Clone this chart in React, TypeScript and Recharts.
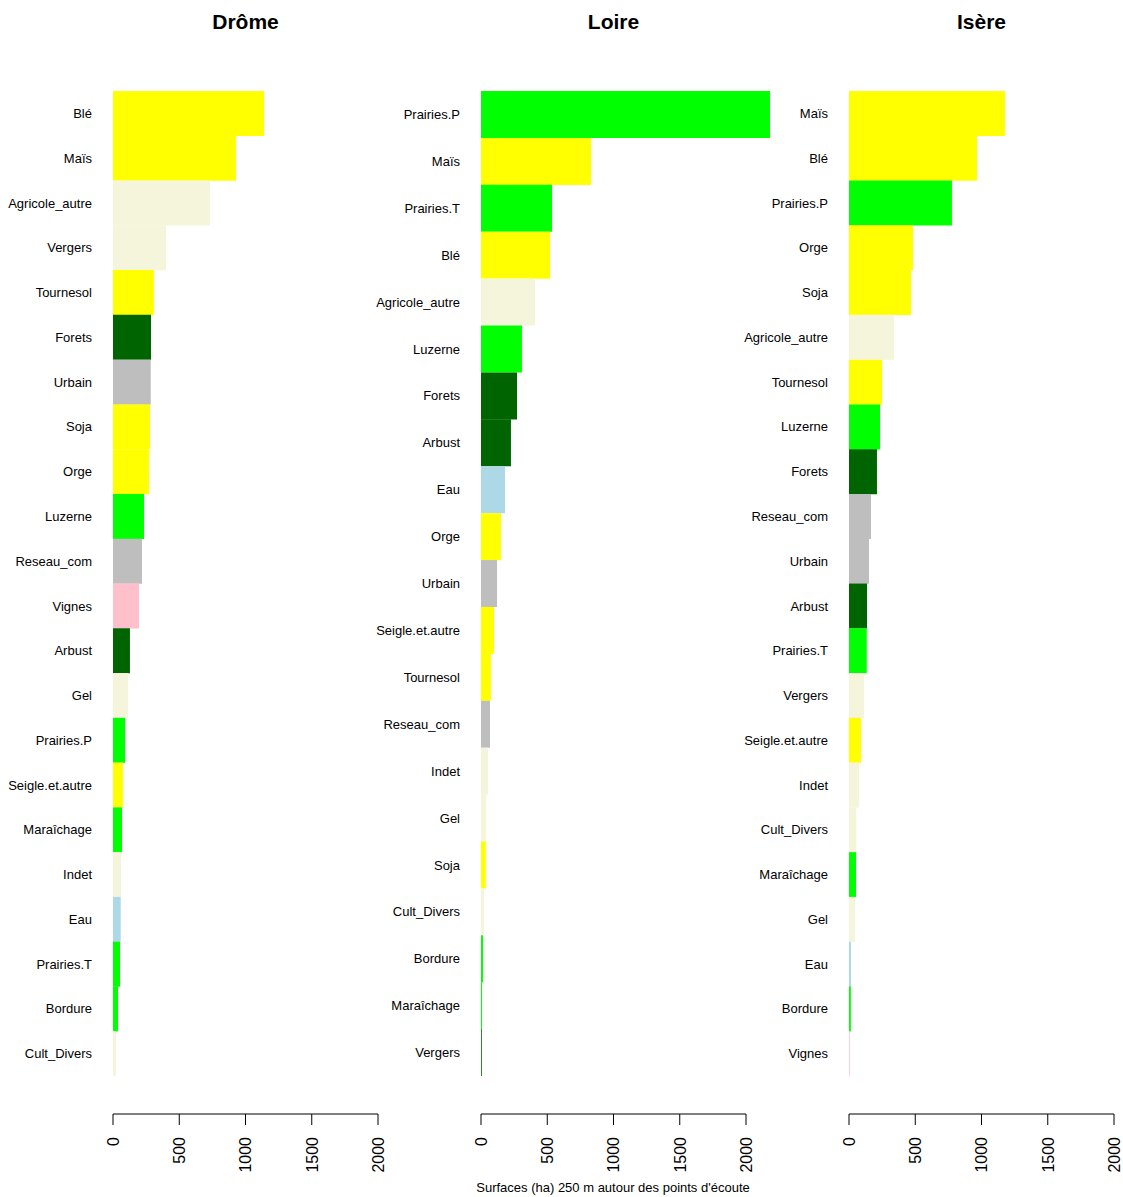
import { BarChart, Bar, XAxis, YAxis, Cell } from 'recharts';

const FONT = '"Liberation Sans", Arial, Helvetica, sans-serif';

const YELLOW = '#FFFF00';
const GREEN = '#00FF00';
const DARKGREEN = '#006400';
const BEIGE = '#F5F5DC';
const GREY = '#BEBEBE';
const PINK = '#FFC0CB';
const LIGHTBLUE = '#ADD8E6';

const xTicks = [0, 500, 1000, 1500, 2000];

// Drôme
const dromeCategories = [
  'Blé', 'Maïs', 'Agricole_autre', 'Vergers', 'Tournesol', 'Forets', 'Urbain', 'Soja',
  'Orge', 'Luzerne', 'Reseau_com', 'Vignes', 'Arbust', 'Gel', 'Prairies.P',
  'Seigle.et.autre', 'Maraîchage', 'Indet', 'Eau', 'Prairies.T', 'Bordure', 'Cult_Divers',
];
const dromeValues = [
  1140, 928, 732, 400, 309, 287, 285, 279, 272, 234, 219, 196, 128, 113, 91, 75, 68, 60, 58, 53,
  38, 23,
];
const dromeColors = [
  YELLOW, YELLOW, BEIGE, BEIGE, YELLOW, DARKGREEN, GREY, YELLOW, YELLOW, GREEN, GREY, PINK,
  DARKGREEN, BEIGE, GREEN, YELLOW, GREEN, BEIGE, LIGHTBLUE, GREEN, GREEN, BEIGE,
];

// Loire
const loireCategories = [
  'Prairies.P', 'Maïs', 'Prairies.T', 'Blé', 'Agricole_autre', 'Luzerne', 'Forets', 'Arbust',
  'Eau', 'Orge', 'Urbain', 'Seigle.et.autre', 'Tournesol', 'Reseau_com', 'Indet', 'Gel', 'Soja',
  'Cult_Divers', 'Bordure', 'Maraîchage', 'Vergers',
];
const loireValues = [
  2181, 830, 536, 521, 408, 309, 272, 226, 181, 151, 121, 98, 75, 68, 53, 40, 36, 23, 15, 8, 6,
];
const loireColors = [
  GREEN, YELLOW, GREEN, YELLOW, BEIGE, GREEN, DARKGREEN, DARKGREEN, LIGHTBLUE, YELLOW, GREY,
  YELLOW, YELLOW, GREY, BEIGE, BEIGE, YELLOW, BEIGE, GREEN, GREEN, DARKGREEN,
];

// Isère
const isereCategories = [
  'Maïs', 'Blé', 'Prairies.P', 'Orge', 'Soja', 'Agricole_autre', 'Tournesol', 'Luzerne',
  'Forets', 'Reseau_com', 'Urbain', 'Arbust', 'Prairies.T', 'Vergers', 'Seigle.et.autre',
  'Indet', 'Cult_Divers', 'Maraîchage', 'Gel', 'Eau', 'Bordure', 'Vignes',
];
const isereValues = [
  1177, 966, 777, 483, 468, 340, 249, 234, 211, 166, 151, 136, 134, 113, 91, 75, 55, 53, 45, 15,
  14, 6,
];
const isereColors = [
  YELLOW, YELLOW, GREEN, YELLOW, YELLOW, BEIGE, YELLOW, GREEN, DARKGREEN, GREY, GREY, DARKGREEN,
  GREEN, BEIGE, YELLOW, BEIGE, BEIGE, GREEN, BEIGE, LIGHTBLUE, GREEN, PINK,
];

function RotatedTick(props: any) {
  const { x, y, payload } = props;
  return (
    <text
      x={x}
      y={y}
      transform={`rotate(-90 ${x} ${y})`}
      textAnchor="end"
      dy="0.36em"
      fontSize={16}
      fontFamily={FONT}
      fill="#000"
    >
      {payload.value}
    </text>
  );
}

function Panel({ title, categories, values, colors, left }: any) {
  const data = categories.map((name: string, i: number) => ({ name, value: values[i] }));
  return (
    <div style={{ position: 'absolute', left, top: 0 }}>
      <div
        style={{
          position: 'absolute',
          left: 113,
          width: 265,
          top: 11,
          textAlign: 'center',
          font: `bold 21px/21px ${FONT}`,
          color: '#000',
        }}
      >
        {title}
      </div>
      <BarChart
        layout="vertical"
        width={420}
        height={1197}
        data={data}
        margin={{ top: 91, right: 42, bottom: 23, left: 0 }}
        barCategoryGap={0}
        barGap={0}
      >
        <XAxis
          type="number"
          domain={[0, 2000]}
          ticks={xTicks}
          allowDataOverflow
          interval={0}
          tickSize={11}
          tickMargin={12}
          tick={<RotatedTick />}
          stroke="#000"
          height={60}
        />
        <YAxis
          type="category"
          dataKey="name"
          width={113}
          axisLine={false}
          tickLine={false}
          tickSize={0}
          tickMargin={21}
          interval={0}
          padding={{ top: 0, bottom: 38 }}
          tick={{ fill: '#000', fontSize: 13, fontFamily: FONT }}
        />
        <Bar dataKey="value" isAnimationActive={false}>
          {colors.map((c: string, i: number) => (
            <Cell key={i} fill={c} />
          ))}
        </Bar>
      </BarChart>
    </div>
  );
}

export default function App() {
  return (
    <div style={{ position: 'relative', width: 1123, height: 1197, background: '#fff' }}>
      <style>{`
        body { margin: 0; }
        .recharts-bar-rectangles { clip-path: none; }
      `}</style>
      <Panel title="Drôme" categories={dromeCategories} values={dromeValues} colors={dromeColors} left={0} />
      <Panel title="Loire" categories={loireCategories} values={loireValues} colors={loireColors} left={368} />
      <Panel title="Isère" categories={isereCategories} values={isereValues} colors={isereColors} left={736} />
      <div
        style={{
          position: 'absolute',
          left: 413,
          width: 400,
          top: 1181,
          textAlign: 'center',
          font: `13px/13px ${FONT}`,
          color: '#000',
          whiteSpace: 'nowrap',
        }}
      >
        Surfaces (ha) 250 m autour des points d'écoute
      </div>
    </div>
  );
}
